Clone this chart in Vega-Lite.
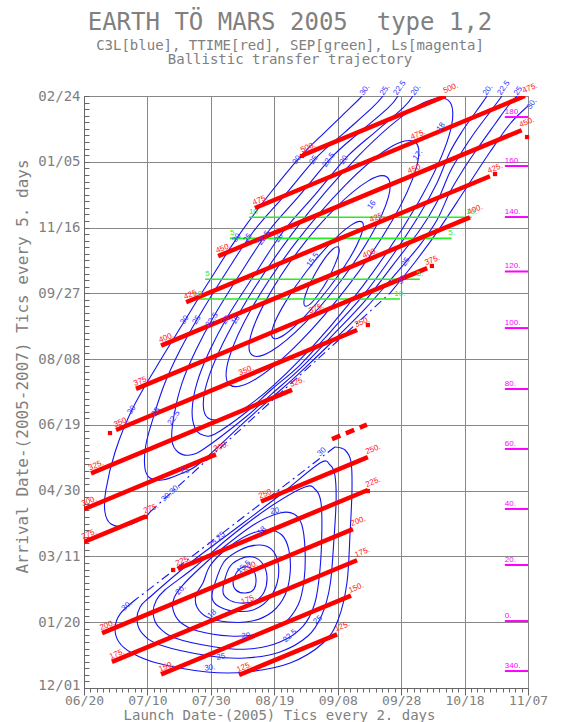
{
  "$schema": "https://vega.github.io/schema/vega-lite/v6.json",
  "width": 444,
  "height": 592,
  "autosize": "none",
  "padding": {"left": 84, "top": 96, "right": 33, "bottom": 34},
  "background": "white",
  "config": {"view": {"stroke": "#888", "strokeWidth": 1}},
  "title": {
    "text": "EARTH TÖ MARS 2005\u00a0 type 1,2",
    "subtitle": ["C3L[blue], TTIME[red], SEP[green], Ls[magenta]", "Ballistic transfer trajectory"],
    "font": "DejaVu Sans Mono", "fontSize": 24, "fontWeight": "normal", "color": "#808080",
    "subtitleFont": "DejaVu Sans Mono", "subtitleFontSize": 14, "subtitleColor": "#808080",
    "subtitlePadding": 4, "subtitleLineHeight": 14.5,
    "anchor": "middle", "dx": -16, "offset": 12
  },
  "datasets": {
    "bc": [
      {"c":"L25","d":20.8,"a":69.2},{"c":"L25","d":17.7,"a":61.6},{"c":"L25","d":16.7,"a":51.7},{"c":"L25","d":18.3,"a":41.8},{"c":"L25","d":24.0,"a":32.7},{"c":"L25","d":39.7,"a":24.3},{"c":"L25","d":50.8,"a":22.8},{"c":"L25","d":61.8,"a":27.4},{"c":"L25","d":70.6,"a":39.5},{"c":"L25","d":75.0,"a":55.5},{"c":"L25","d":77.6,"a":78.3},{"c":"L25","d":78.8,"a":112.5},{"c":"L25","d":79.5,"a":142.9},{"c":"L25","d":79.1,"a":161.9},{"c":"L25","d":77.6,"a":169.5},{"c":"L25","d":74.4,"a":171.0},{"c":"L25","d":61.8,"a":146.7},{"c":"L25","d":46.0,"a":117.8},{"c":"L25","d":33.4,"a":95.0},
      {"c":"L22","d":25.5,"a":74.5},{"c":"L22","d":22.7,"a":66.1},{"c":"L22","d":21.8,"a":57.0},{"c":"L22","d":23.3,"a":47.1},{"c":"L22","d":28.7,"a":38.0},{"c":"L22","d":41.3,"a":31.2},{"c":"L22","d":51.7,"a":29.6},{"c":"L22","d":61.8,"a":35.0},{"c":"L22","d":69.1,"a":47.1},{"c":"L22","d":72.8,"a":64.6},{"c":"L22","d":74.4,"a":89.7},{"c":"L22","d":75.0,"a":120.1},{"c":"L22","d":74.7,"a":141.4},{"c":"L22","d":73.1,"a":150.5},{"c":"L22","d":69.7,"a":152.8},{"c":"L22","d":58.6,"a":137.6},{"c":"L22","d":46.0,"a":114.8},{"c":"L22","d":35.0,"a":92.0},
      {"c":"L20","d":30.9,"a":77.5},{"c":"L20","d":28.4,"a":68.4},{"c":"L20","d":28.1,"a":59.3},{"c":"L20","d":30.3,"a":50.2},{"c":"L20","d":35.9,"a":43.3},{"c":"L20","d":46.0,"a":39.5},{"c":"L20","d":54.9,"a":41.0},{"c":"L20","d":62.7,"a":48.6},{"c":"L20","d":67.5,"a":63.1},{"c":"L20","d":69.4,"a":82.1},{"c":"L20","d":69.7,"a":104.9},{"c":"L20","d":68.7,"a":123.9},{"c":"L20","d":66.2,"a":132.3},{"c":"L20","d":61.8,"a":133.0},{"c":"L20","d":53.9,"a":124.7},{"c":"L20","d":44.5,"a":107.9},{"c":"L20","d":36.6,"a":91.2},
      {"c":"L18","d":37.5,"a":79.8},{"c":"L18","d":35.3,"a":70.7},{"c":"L18","d":35.6,"a":61.6},{"c":"L18","d":38.8,"a":54.0},{"c":"L18","d":45.4,"a":50.2},{"c":"L18","d":53.0,"a":50.9},{"c":"L18","d":59.3,"a":57.8},{"c":"L18","d":63.4,"a":70.7},{"c":"L18","d":65.0,"a":87.4},{"c":"L18","d":64.6,"a":104.9},{"c":"L18","d":62.4,"a":116.3},{"c":"L18","d":58.0,"a":120.1},{"c":"L18","d":51.7,"a":116.3},{"c":"L18","d":44.5,"a":104.9},{"c":"L18","d":39.7,"a":92.7},
      {"c":"L17","d":41.0,"a":77.5},{"c":"L17","d":40.4,"a":68.4},{"c":"L17","d":42.3,"a":62.3},{"c":"L17","d":47.0,"a":58.5},{"c":"L17","d":53.3,"a":59.3},{"c":"L17","d":58.0,"a":66.9},{"c":"L17","d":60.9,"a":79.8},{"c":"L17","d":61.2,"a":95.0},{"c":"L17","d":59.0,"a":105.7},{"c":"L17","d":54.9,"a":108.7},{"c":"L17","d":49.2,"a":104.9},{"c":"L17","d":44.1,"a":95.8},
      {"c":"L16","d":43.8,"a":74.5},{"c":"L16","d":45.4,"a":67.6},{"c":"L16","d":49.2,"a":64.6},{"c":"L16","d":53.9,"a":66.1},{"c":"L16","d":56.8,"a":73.0},{"c":"L16","d":57.7,"a":84.4},{"c":"L16","d":56.4,"a":94.3},{"c":"L16","d":53.3,"a":99.6},{"c":"L16","d":49.2,"a":98.1},{"c":"L16","d":45.7,"a":91.2},
      {"c":"L15","d":47.0,"a":80.6},{"c":"L15","d":47.9,"a":74.5},{"c":"L15","d":50.8,"a":72.2},{"c":"L15","d":53.6,"a":75.2},{"c":"L15","d":54.2,"a":83.6},{"c":"L15","d":53.0,"a":90.5},{"c":"L15","d":50.4,"a":92.0},{"c":"L15","d":48.2,"a":88.2},
      {"c":"C1","d":80.1,"a":335.2},{"c":"C1","d":80.4,"a":330.9},{"c":"C1","d":79.1,"a":321.8},{"c":"C1","d":76.8,"a":310.2},{"c":"C1","d":73.9,"a":299.3},{"c":"C1","d":71.4,"a":292.0},{"c":"C1","d":69.7,"a":290.4},{"c":"C1","d":69.4,"a":294.7},{"c":"C1","d":70.6,"a":303.8},{"c":"C1","d":73.0,"a":315.4},{"c":"C1","d":75.8,"a":326.2},{"c":"C1","d":78.4,"a":333.5},
      {"c":"C2","d":87.7,"a":354.2},{"c":"C2","d":87.5,"a":345.1},{"c":"C2","d":83.7,"a":326.5},{"c":"C2","d":77.1,"a":303.7},{"c":"C2","d":69.6,"a":282.5},{"c":"C2","d":63.3,"a":268.7},{"c":"C2","d":59.6,"a":266.0},{"c":"C2","d":59.7,"a":275.2},{"c":"C2","d":63.6,"a":293.7},{"c":"C2","d":70.1,"a":316.6},{"c":"C2","d":77.6,"a":337.8},{"c":"C2","d":84.0,"a":351.5},
      {"c":"C3","d":95.5,"a":388.4},{"c":"C3","d":96.0,"a":373.4},{"c":"C3","d":90.6,"a":344.3},{"c":"C3","d":80.8,"a":308.8},{"c":"C3","d":69.3,"a":276.6},{"c":"C3","d":59.1,"a":256.2},{"c":"C3","d":53.0,"a":253.1},{"c":"C3","d":52.6,"a":268.1},{"c":"C3","d":58.0,"a":297.3},{"c":"C3","d":67.7,"a":332.7},{"c":"C3","d":79.3,"a":364.9},{"c":"C3","d":89.5,"a":385.3},
      {"c":"C4","d":104.4,"a":415.0},{"c":"C4","d":104.7,"a":394.8},{"c":"C4","d":97.2,"a":355.3},{"c":"C4","d":83.7,"a":307.0},{"c":"C4","d":68.0,"a":262.9},{"c":"C4","d":54.2,"a":234.9},{"c":"C4","d":46.0,"a":230.3},{"c":"C4","d":45.7,"a":250.5},{"c":"C4","d":53.2,"a":290.0},{"c":"C4","d":66.7,"a":338.3},{"c":"C4","d":82.4,"a":382.3},{"c":"C4","d":96.2,"a":410.5},
      {"c":"C5","d":114.8,"a":446.9},{"c":"C5","d":115.2,"a":420.6},{"c":"C5","d":105.4,"a":369.1},{"c":"C5","d":88.0,"a":305.9},{"c":"C5","d":67.6,"a":248.2},{"c":"C5","d":49.8,"a":211.3},{"c":"C5","d":39.1,"a":205.2},{"c":"C5","d":38.7,"a":231.5},{"c":"C5","d":48.5,"a":283.1},{"c":"C5","d":65.9,"a":346.2},{"c":"C5","d":86.3,"a":403.9},{"c":"C5","d":104.1,"a":440.8}
    ],
    "bo": [
      {"c":"L30","d":16.1,"a":66.9},{"c":"L30","d":11.4,"a":56.3},{"c":"L30","d":9.8,"a":45.6},{"c":"L30","d":11.0,"a":35.0},{"c":"L30","d":15.1,"a":26.6},{"c":"L30","d":23.0,"a":19.0},{"c":"L30","d":38.8,"a":12.2},{"c":"L30","d":51.4,"a":12.2},{"c":"L30","d":65.0,"a":19.0},{"c":"L30","d":75.4,"a":34.2},{"c":"L30","d":80.1,"a":51.7},{"c":"L30","d":82.9,"a":79.8},{"c":"L30","d":83.9,"a":117.8},{"c":"L30","d":84.5,"a":150.5},{"c":"L30","d":84.2,"a":171.8},{"c":"L30","d":82.3,"a":180.9},{"c":"L30","d":79.1,"a":183.2},
      {"c":"O1","d":103.7,"a":450.0},{"c":"O1","d":100.6,"a":440.9},{"c":"O1","d":91.8,"a":422.6},{"c":"O1","d":83.2,"a":404.4},{"c":"O1","d":72.8,"a":374.8},{"c":"O1","d":62.7,"a":346.6},{"c":"O1","d":53.9,"a":314.7},{"c":"O1","d":45.4,"a":282.8},{"c":"O1","d":39.7,"a":256.9},{"c":"O1","d":35.6,"a":231.8},{"c":"O1","d":34.1,"a":211.3},{"c":"O1","d":35.0,"a":197.6},{"c":"O1","d":37.5,"a":192.3},{"c":"O1","d":41.3,"a":193.1},{"c":"O1","d":50.8,"a":209.0},{"c":"O1","d":59.3,"a":227.3},{"c":"O1","d":68.1,"a":245.5},{"c":"O1","d":78.2,"a":272.1},{"c":"O1","d":88.6,"a":300.2},{"c":"O1","d":97.4,"a":329.1},{"c":"O1","d":105.9,"a":360.3},{"c":"O1","d":111.3,"a":383.9},{"c":"O1","d":115.4,"a":407.4},{"c":"O1","d":119.5,"a":424.1},{"c":"O1","d":123.3,"a":437.1},{"c":"O1","d":127.1,"a":450.0},
      {"c":"O2","d":99.0,"a":450.0},{"c":"O2","d":95.9,"a":440.9},{"c":"O2","d":87.0,"a":422.6},{"c":"O2","d":78.5,"a":404.4},{"c":"O2","d":68.1,"a":374.8},{"c":"O2","d":58.0,"a":346.6},{"c":"O2","d":49.2,"a":314.7},{"c":"O2","d":41.0,"a":282.8},{"c":"O2","d":35.3,"a":256.9},{"c":"O2","d":30.9,"a":231.8},{"c":"O2","d":28.4,"a":207.5},{"c":"O2","d":27.7,"a":188.5},{"c":"O2","d":29.6,"a":179.4},{"c":"O2","d":33.4,"a":177.1},{"c":"O2","d":38.2,"a":182.4},{"c":"O2","d":50.8,"a":205.6},{"c":"O2","d":59.3,"a":223.8},{"c":"O2","d":68.1,"a":242.5},{"c":"O2","d":78.2,"a":267.6},{"c":"O2","d":88.6,"a":294.2},{"c":"O2","d":97.4,"a":321.5},{"c":"O2","d":105.9,"a":348.1},{"c":"O2","d":111.3,"a":369.4},{"c":"O2","d":115.4,"a":392.2},{"c":"O2","d":119.5,"a":408.9},{"c":"O2","d":123.3,"a":422.6},{"c":"O2","d":128.0,"a":437.8},{"c":"O2","d":131.8,"a":450.0},
      {"c":"O3","d":94.3,"a":450.0},{"c":"O3","d":90.8,"a":440.9},{"c":"O3","d":82.3,"a":422.6},{"c":"O3","d":73.8,"a":404.4},{"c":"O3","d":63.4,"a":374.8},{"c":"O3","d":53.3,"a":346.6},{"c":"O3","d":44.5,"a":314.7},{"c":"O3","d":36.3,"a":282.8},{"c":"O3","d":30.3,"a":256.9},{"c":"O3","d":25.5,"a":231.8},{"c":"O3","d":22.1,"a":207.5},{"c":"O3","d":19.5,"a":184.7},{"c":"O3","d":19.2,"a":167.2},{"c":"O3","d":20.8,"a":159.6},{"c":"O3","d":24.6,"a":158.1},{"c":"O3","d":30.3,"a":162.7},{"c":"O3","d":36.6,"a":171.0},{"c":"O3","d":50.8,"a":202.6},{"c":"O3","d":59.3,"a":220.8},{"c":"O3","d":68.1,"a":239.8},{"c":"O3","d":78.2,"a":263.0},{"c":"O3","d":88.6,"a":288.1},{"c":"O3","d":97.4,"a":312.4},{"c":"O3","d":105.9,"a":336.7},{"c":"O3","d":111.3,"a":355.7},{"c":"O3","d":115.4,"a":377.0},{"c":"O3","d":119.5,"a":393.7},{"c":"O3","d":123.3,"a":407.4},{"c":"O3","d":129.6,"a":428.7},{"c":"O3","d":133.7,"a":442.4},{"c":"O3","d":136.5,"a":450.0},
      {"c":"O4a","d":87.7,"a":450.0},{"c":"O4a","d":83.9,"a":440.9},{"c":"O4a","d":76.0,"a":422.6},{"c":"O4a","d":68.1,"a":403.6},{"c":"O4a","d":58.0,"a":374.0},{"c":"O4a","d":48.2,"a":342.0},{"c":"O4a","d":39.1,"a":307.8},{"c":"O4a","d":31.5,"a":278.2},{"c":"O4a","d":23.0,"a":244.8},{"c":"O4a","d":15.1,"a":211.3},{"c":"O4a","d":9.8,"a":179.4},{"c":"O4a","d":6.9,"a":150.5},{"c":"O4a","d":6.6,"a":133.8},{"c":"O4a","d":8.5,"a":124.7},{"c":"O4a","d":12.9,"a":123.1},{"c":"O4a","d":18.9,"a":129.2},{"c":"O4a","d":20.8,"a":133.8},
      {"c":"O4b","d":96.5,"a":300.2},{"c":"O4b","d":104.4,"a":323.8},{"c":"O4b","d":112.2,"a":349.6},{"c":"O4b","d":120.1,"a":378.5},{"c":"O4b","d":128.0,"a":407.4},{"c":"O4b","d":134.3,"a":428.7},{"c":"O4b","d":140.0,"a":442.4}
    ],
    "bd": [
      {"c":"LD","d":79.1,"a":183.2},{"c":"LD","d":16.1,"a":66.9},
      {"c":"OD","d":20.8,"a":133.8},{"c":"OD","d":96.5,"a":300.2}
    ],
    "rl": [
      {"c":"125","d":48.9,"a":9.9},{"c":"125","d":79.8,"a":40.8},
      {"c":"150","d":24.3,"a":10.3},{"c":"150","d":84.2,"a":70.2},
      {"c":"175","d":8.8,"a":19.8},{"c":"175","d":86.1,"a":97.1},
      {"c":"200","d":5.7,"a":41.7},{"c":"200","d":84.8,"a":120.8},
      {"c":"225","d":29.6,"a":90.6},{"c":"225","d":89.5,"a":150.5},
      {"c":"250","d":55.8,"a":141.8},{"c":"250","d":89.5,"a":175.5},
      {"c":"275","d":0,"a":111},{"c":"275","d":19.5,"a":130.5},
      {"c":"300","d":0,"a":136},{"c":"300","d":41.6,"a":177.6},
      {"c":"325","d":2.2,"a":163.2},{"c":"325","d":65.6,"a":226.6},
      {"c":"350","d":10.1,"a":196.1},{"c":"350","d":86.1,"a":272.1},
      {"c":"375","d":16.4,"a":227.4},{"c":"375","d":108.2,"a":319.2},
      {"c":"400","d":24.3,"a":260.3},{"c":"400","d":121.7,"a":357.7},
      {"c":"425","d":32.2,"a":293.2},{"c":"425","d":128,"a":389},
      {"c":"450","d":42.3,"a":328.3},{"c":"450","d":138,"a":424},
      {"c":"475","d":53.9,"a":364.9},{"c":"475","d":139,"a":450},
      {"c":"500","d":69,"a":405},{"c":"500","d":114,"a":450}
    ],
    "rd": [
      {"c":"275b","d":78.2,"a":189.2},{"c":"275b","d":89.2,"a":200.2}
    ],
    "rdot": [
      {"d":68.7,"a":404.4},{"d":8.2,"a":193.8},{"d":89.5,"a":275.9},{"d":109.7,"a":320.8},{"d":129.6,"a":390.7},{"d":139.7,"a":418.8},{"d":28.1,"a":89.7},{"d":89.5,"a":149.7},{"d":19.5,"a":130.0}
    ],
    "gl": [
      {"c":"g1","d":52.0,"a":357.8},{"c":"g1","d":122.2,"a":357.8},
      {"c":"g2","d":46.0,"a":341.8},{"c":"g2","d":115.9,"a":341.8},
      {"c":"g3","d":38.2,"a":310.7},{"c":"g3","d":105.9,"a":310.7},
      {"c":"g4","d":34.4,"a":295.7},{"c":"g4","d":99.6,"a":295.7}
    ],
    "ml": [
      {"c":"180","d":132.7,"a":434.0},{"c":"180","d":140,"a":434.0},
      {"c":"160","d":132.7,"a":396.8},{"c":"160","d":140,"a":396.8},
      {"c":"140","d":132.7,"a":358.0},{"c":"140","d":140,"a":358.0},
      {"c":"120","d":132.7,"a":316.6},{"c":"120","d":140,"a":316.6},
      {"c":"100","d":132.7,"a":273.6},{"c":"100","d":140,"a":273.6},
      {"c":"80","d":132.7,"a":227.3},{"c":"80","d":140,"a":227.3},
      {"c":"60","d":132.7,"a":181.7},{"c":"60","d":140,"a":181.7},
      {"c":"40","d":132.7,"a":136.1},{"c":"40","d":140,"a":136.1},
      {"c":"20","d":132.7,"a":93.5},{"c":"20","d":140,"a":93.5},
      {"c":"0","d":132.7,"a":50.9},{"c":"0","d":140,"a":50.9},
      {"c":"340","d":132.7,"a":12.9},{"c":"340","d":140,"a":12.9}
    ],
    "tRed": [
      {"t":"125.","d":48.9,"a":9.9},{"t":"150.","d":24.3,"a":10.3},{"t":"175.","d":8.8,"a":19.8},{"t":"200.","d":5.7,"a":41.7},{"t":"225.","d":29.6,"a":90.6},{"t":"250.","d":55.8,"a":141.8},{"t":"275.","d":0,"a":111},{"t":"300.","d":0,"a":136},{"t":"325.","d":2.2,"a":163.2},{"t":"350.","d":10.1,"a":196.1},{"t":"375.","d":16.4,"a":227.4},{"t":"400.","d":24.3,"a":260.3},{"t":"425.","d":32.2,"a":293.2},{"t":"450.","d":42.3,"a":328.3},{"t":"475.","d":53.9,"a":364.9},{"t":"500.","d":69,"a":405},
      {"t":"125.","d":79.8,"a":40.8},{"t":"150.","d":84.2,"a":70.2},{"t":"175.","d":86.1,"a":97.1},{"t":"200.","d":84.8,"a":120.8},{"t":"225.","d":89.5,"a":150.5},{"t":"250.","d":89.5,"a":175.5},{"t":"275.","d":19.5,"a":130.5},{"t":"300.","d":41.6,"a":177.6},{"t":"325.","d":65.6,"a":226.6},{"t":"350.","d":86.1,"a":272.1},{"t":"375.","d":108.2,"a":319.2},{"t":"400.","d":121.7,"a":357.7},{"t":"425.","d":128,"a":389},{"t":"450.","d":138,"a":424},{"t":"475.","d":139,"a":450},{"t":"500.","d":114,"a":450},
      {"t":"350.","d":49.5,"a":235.5},{"t":"375.","d":71.6,"a":282.6},{"t":"200.","d":50.8,"a":86.8},{"t":"175.","d":50.3,"a":61.3},{"t":"425.","d":90.8,"a":351.8},{"t":"450.","d":102.8,"a":388.8},{"t":"475.","d":103.7,"a":414.7},{"t":"400.","d":88.6,"a":324.6}
    ],
    "tBlueUp": [
      {"t":"30.","d":88.6,"a":454.5},{"t":"25.","d":94.9,"a":454.5},{"t":"22.5","d":99.6,"a":456.1},{"t":"20.","d":104.7,"a":454.5},
      {"t":"20.","d":127.4,"a":454.5},{"t":"22.5","d":132.4,"a":456.1},{"t":"25.","d":137.2,"a":454.5},{"t":"30.","d":141.3,"a":443.9},
      {"t":"30","d":67.2,"a":401.3},{"t":"25","d":72.5,"a":401.3},{"t":"22.5","d":77.2,"a":401.3},{"t":"20","d":82.0,"a":401.3},
      {"t":"30","d":48.2,"a":342.0},{"t":"25","d":51.7,"a":342.0},{"t":"22.5","d":56.8,"a":342.0},{"t":"20","d":61.5,"a":342.0},
      {"t":"30","d":31.8,"a":279.7},{"t":"25","d":35.6,"a":279.7},{"t":"22.5","d":40.4,"a":279.7},{"t":"20","d":44.8,"a":279.7},{"t":"18","d":47.9,"a":279.7},
      {"t":"30","d":15.1,"a":211.3},{"t":"25","d":22.7,"a":209.8},{"t":"22.5","d":28.4,"a":205.2},
      {"t":"30","d":100.3,"a":310.1},{"t":"25","d":101.5,"a":323.8},
      {"t":"15.5","d":72.2,"a":325.3},{"t":"18","d":112.6,"a":426.4},{"t":"17.","d":105.3,"a":405.1},{"t":"16","d":90.8,"a":367.1}
    ],
    "tBlueFlat": [
      {"t":"30.","d":39.7,"a":15.2},{"t":"25.","d":43.5,"a":23.6},{"t":"20.","d":51.4,"a":39.5},{"t":"20.","d":60.5,"a":134.5},{"t":"25","d":31.8,"a":164.9}
    ],
    "tBlueTilt": [
      {"t":"30.","d":13.6,"a":62.3},{"t":"22.5","d":65.0,"a":39.5},{"t":"25","d":73.8,"a":51.7},{"t":"18","d":40.4,"a":56.2},{"t":"18","d":56.1,"a":119.3},{"t":"15.5","d":50.4,"a":92.0},{"t":"25.25","d":41.9,"a":112.5},{"t":"30.30.","d":27.4,"a":148.2},{"t":"30","d":75.0,"a":179.4},{"t":"20.","d":30.6,"a":74.5}
    ],
    "tGreenL": [
      {"t":"10","d":52.0,"a":357.8},{"t":"5","d":46.0,"a":341.8},{"t":"5","d":38.2,"a":310.7},{"t":"10","d":34.4,"a":295.7}
    ],
    "tGreenR": [
      {"t":"10.","d":122.2,"a":357.8},{"t":"5.","d":115.9,"a":341.8},{"t":"5.","d":105.9,"a":310.7},{"t":"10.","d":99.6,"a":295.7}
    ],
    "tMag": [
      {"t":"180.","d":132.7,"a":434.0},{"t":"160.","d":132.7,"a":396.8},{"t":"140.","d":132.7,"a":358.0},{"t":"120.","d":132.7,"a":316.6},{"t":"100.","d":132.7,"a":273.6},{"t":"80.","d":132.7,"a":227.3},{"t":"60.","d":132.7,"a":181.7},{"t":"40.","d":132.7,"a":136.1},{"t":"20.","d":132.7,"a":93.5},{"t":"0.","d":132.7,"a":50.9},{"t":"340.","d":132.7,"a":12.9}
    ]
  },
  "encoding": {
    "x": {
      "field": "d", "type": "quantitative",
      "scale": {"domain": [0, 140], "nice": false, "zero": false},
      "axis": {
        "values": [0,2,4,6,8,10,12,14,16,18,20,22,24,26,28,30,32,34,36,38,40,42,44,46,48,50,52,54,56,58,60,62,64,66,68,70,72,74,76,78,80,82,84,86,88,90,92,94,96,98,100,102,104,106,108,110,112,114,116,118,120,122,124,126,128,130,132,134,136,138,140],
        "labelExpr": "datum.value % 20 === 0 ? ['06/20','07/10','07/30','08/19','09/08','09/28','10/18','11/07'][datum.value / 20] : ''",
        "labelOverlap": false, "labelFlush": false,
        "labelFont": "DejaVu Sans Mono", "labelFontSize": 13, "labelColor": "#808080", "labelPadding": -1,
        "grid": true, "gridColor": "#888",
        "gridOpacity": {"condition": {"test": "datum.value % 20 === 0", "value": 1}, "value": 0},
        "tickColor": "#666",
        "tickSize": {"condition": {"test": "datum.value % 20 === 0", "value": 7}, "value": 4},
        "domainColor": "#666",
        "title": "Launch Date-(2005) Tics every 2. days",
        "titleFont": "DejaVu Sans Mono", "titleFontSize": 14, "titleFontWeight": "normal", "titleColor": "#808080",
        "titleX": 195, "titleY": 27.5, "titleAlign": "center", "titleBaseline": "middle"
      }
    },
    "y": {
      "field": "a", "type": "quantitative",
      "scale": {"domain": [0, 450], "nice": false, "zero": false},
      "axis": {
        "values": [0,5,10,15,20,25,30,35,40,45,50,55,60,65,70,75,80,85,90,95,100,105,110,115,120,125,130,135,140,145,150,155,160,165,170,175,180,185,190,195,200,205,210,215,220,225,230,235,240,245,250,255,260,265,270,275,280,285,290,295,300,305,310,315,320,325,330,335,340,345,350,355,360,365,370,375,380,385,390,395,400,405,410,415,420,425,430,435,440,445,450],
        "labelExpr": "datum.value % 50 === 0 ? ['12/01','01/20','03/11','04/30','06/19','08/08','09/27','11/16','01/05','02/24'][datum.value / 50] : ''",
        "labelOverlap": false, "labelFlush": false,
        "labelFont": "DejaVu Sans Mono", "labelFontSize": 14, "labelColor": "#808080", "labelPadding": 9,
        "labelOffset": {"condition": {"test": "datum.value === 0", "value": -3}, "value": 0},
        "grid": true, "gridColor": "#888",
        "gridOpacity": {"condition": {"test": "datum.value % 50 === 0", "value": 1}, "value": 0},
        "tickColor": "#666", "tickSize": -5,
        "domainColor": "#666",
        "title": "Arrival Date-(2005-2007) Tics every 5. days",
        "titleFont": "DejaVu Sans Mono", "titleFontSize": 16, "titleFontWeight": "normal", "titleColor": "#808080",
        "titleX": -62, "titleY": 270, "titleAngle": -90, "titleAlign": "center", "titleBaseline": "middle"
      }
    }
  },
  "layer": [
    {"data": {"name": "bc"}, "mark": {"type": "line", "interpolate": "cardinal-closed", "color": "#1414f0", "strokeWidth": 1.1, "clip": true},
     "encoding": {"detail": {"field": "c", "type": "nominal"}, "order": {"value": null}}},
    {"data": {"name": "bo"}, "mark": {"type": "line", "interpolate": "cardinal", "color": "#1414f0", "strokeWidth": 1.1, "clip": true},
     "encoding": {"detail": {"field": "c", "type": "nominal"}, "order": {"value": null}}},
    {"data": {"name": "bd"}, "mark": {"type": "line", "color": "#1414f0", "strokeWidth": 1.1, "strokeDash": [9, 4, 2, 4], "clip": true},
     "encoding": {"detail": {"field": "c", "type": "nominal"}, "order": {"value": null}}},
    {"data": {"name": "gl"}, "mark": {"type": "line", "color": "#22ee22", "strokeWidth": 1.6},
     "encoding": {"detail": {"field": "c", "type": "nominal"}, "order": {"value": null}}},
    {"data": {"name": "rl"}, "mark": {"type": "line", "color": "#ff0000", "strokeWidth": 4.5, "strokeCap": "butt", "clip": true},
     "encoding": {"detail": {"field": "c", "type": "nominal"}, "order": {"value": null}}},
    {"data": {"name": "rd"}, "mark": {"type": "line", "color": "#ff0000", "strokeWidth": 4.5, "strokeCap": "butt", "strokeDash": [9, 6]},
     "encoding": {"detail": {"field": "c", "type": "nominal"}, "order": {"value": null}}},
    {"data": {"name": "rdot"}, "mark": {"type": "square", "color": "#ff0000", "filled": true, "size": 18, "opacity": 1}},
    {"data": {"name": "ml"}, "mark": {"type": "line", "color": "#ff00ff", "strokeWidth": 2},
     "encoding": {"detail": {"field": "c", "type": "nominal"}, "order": {"value": null}}},
    {"data": {"name": "tRed"}, "mark": {"type": "text", "color": "#ff2020", "font": "Liberation Sans", "fontSize": 8, "angle": -22.5, "align": "left", "baseline": "bottom", "dy": -1},
     "encoding": {"text": {"field": "t"}}},
    {"data": {"name": "tBlueUp"}, "mark": {"type": "text", "color": "#3030ff", "font": "Liberation Sans", "fontSize": 8, "angle": -55, "align": "center", "baseline": "middle"},
     "encoding": {"text": {"field": "t"}}},
    {"data": {"name": "tBlueFlat"}, "mark": {"type": "text", "color": "#3030ff", "font": "Liberation Sans", "fontSize": 8, "angle": -8, "align": "center", "baseline": "middle"},
     "encoding": {"text": {"field": "t"}}},
    {"data": {"name": "tBlueTilt"}, "mark": {"type": "text", "color": "#3030ff", "font": "Liberation Sans", "fontSize": 8, "angle": -42, "align": "center", "baseline": "middle"},
     "encoding": {"text": {"field": "t"}}},
    {"data": {"name": "tGreenL"}, "mark": {"type": "text", "color": "#22ee22", "font": "Liberation Sans", "fontSize": 8, "align": "left", "baseline": "bottom", "dy": -1},
     "encoding": {"text": {"field": "t"}}},
    {"data": {"name": "tGreenR"}, "mark": {"type": "text", "color": "#22ee22", "font": "Liberation Sans", "fontSize": 8, "align": "center", "baseline": "bottom", "dy": -1},
     "encoding": {"text": {"field": "t"}}},
    {"data": {"name": "tMag"}, "mark": {"type": "text", "color": "#ff00ff", "font": "Liberation Sans", "fontSize": 8, "align": "left", "baseline": "bottom", "dy": -1},
     "encoding": {"text": {"field": "t"}}}
  ]
}
